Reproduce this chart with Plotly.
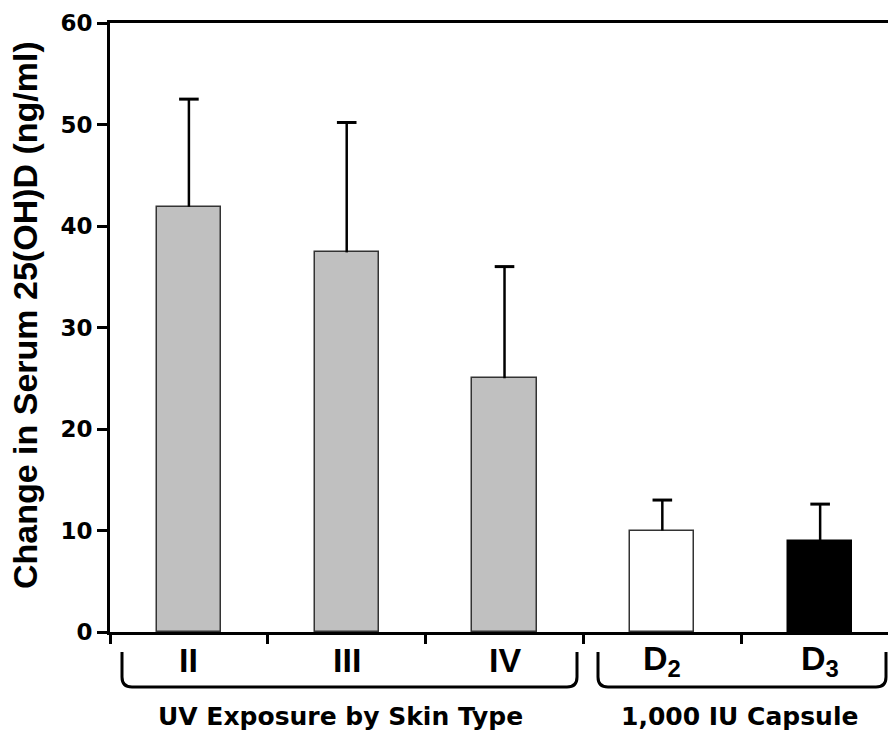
import plotly.graph_objects as go

# ---- data ----
categories = ["II", "III", "IV", "D2", "D3"]
tick_labels = ["II", "III", "IV", "D<sub>2</sub>", "D<sub>3</sub>"]
values = [41.9, 37.4, 25.0, 10.0, 9.0]
errors_up = [10.6, 12.8, 11.0, 3.0, 3.6]
fill_colors = ["#c0c0c0", "#c0c0c0", "#c0c0c0", "#ffffff", "#000000"]
line_colors = ["#333333", "#333333", "#333333", "#333333", "#000000"]
y_ticks = [0, 10, 20, 30, 40, 50, 60]
y_tick_text = ["<b>0</b>", "<b>10</b>", "<b>20</b>", "<b>30</b>", "<b>40</b>", "<b>50</b>", "<b>60</b>"]
group_labels = ["UV Exposure by Skin Type", "1,000 IU Capsule"]
y_title = "Change in Serum 25(OH)D (ng/ml)"

W, H = 888, 731
L, R, T, B = 110, 0, 23, 99
PW, PH = W - L - R, H - T - B


def px(xpix):
    return (xpix - L) / PW


def py(ypix):
    return (H - B - ypix) / PH


fig = go.Figure()
fig.add_trace(
    go.Bar(
        x=categories,
        y=values,
        width=0.406,
        marker=dict(color=fill_colors, line=dict(color=line_colors, width=1.5)),
        showlegend=False,
        hoverinfo="skip",
    )
)

# upper-only error whiskers (stem + top cap), built from the data
wx, wy = [], []
for c, v, e in zip(categories, values, errors_up):
    wx += [c, c, None]
    wy += [v, v + e, None]
fig.add_trace(
    go.Scatter(x=wx, y=wy, mode="lines", line=dict(color="black", width=2.5),
               showlegend=False, hoverinfo="skip", cliponaxis=False)
)
fig.add_trace(
    go.Scatter(
        x=categories,
        y=[v + e for v, e in zip(values, errors_up)],
        mode="markers",
        marker=dict(symbol="line-ew-open", size=14, color="black",
                    line=dict(color="black", width=3)),
        showlegend=False,
        hoverinfo="skip",
        cliponaxis=False,
    )
)

bold = dict(family="Liberation Sans, Arial, sans-serif", color="black", weight="bold")

fig.update_xaxes(
    type="category",
    categoryorder="array",
    categoryarray=categories,
    range=[-0.5, 4.43],
    showline=True,
    linecolor="black",
    linewidth=3,
    mirror=True,
    ticks="outside",
    tickson="boundaries",
    ticklen=9,
    tickwidth=3,
    tickcolor="black",
    showticklabels=False,
    showgrid=False,
    zeroline=False,
    fixedrange=True,
)
fig.update_yaxes(
    range=[0, 60],
    tickmode="array",
    tickvals=y_ticks,
    ticktext=y_tick_text,
    showline=True,
    linecolor="black",
    linewidth=3,
    ticks="outside",
    ticklen=10,
    tickwidth=3,
    tickcolor="black",
    tickfont=dict(family="DejaVu Sans, sans-serif", size=23, color="black", weight="bold"),
    showgrid=False,
    zeroline=False,
    fixedrange=True,
)


def bracket(x0, x1, ytop, ybot, r=10):
    rx, ry = r / PW, r / PH
    a, b = px(x0), px(x1)
    t, u = py(ytop), py(ybot)
    return (
        f"M {a} {t} L {a} {u + ry} Q {a} {u} {a + rx} {u} "
        f"L {b - rx} {u} Q {b} {u} {b} {u + ry} L {b} {t}"
    )


shapes = [
    dict(type="path", xref="paper", yref="paper", path=bracket(122, 577, 652, 687),
         line=dict(color="black", width=3)),
    dict(type="path", xref="paper", yref="paper", path=bracket(598, 886, 652, 687),
         line=dict(color="black", width=3)),
]

group_font = dict(family="DejaVu Sans, sans-serif", size=25, color="black", weight="bold")
annotations = []
for c, lab in zip(categories, tick_labels):
    annotations.append(
        dict(text=lab, x=c, xref="x", y=py(660), yref="paper", xanchor="center",
             yanchor="middle", showarrow=False, font=dict(size=34, **bold))
    )
annotations += [
    dict(text=group_labels[0], x=px(340), y=py(716), xref="paper", yref="paper",
         xanchor="center", yanchor="middle", showarrow=False, font=group_font),
    dict(text=group_labels[1], x=px(739), y=py(716), xref="paper", yref="paper",
         xanchor="center", yanchor="middle", showarrow=False, font=group_font),
    dict(text=y_title, x=px(25), y=py(315), xref="paper", yref="paper",
         xanchor="center", yanchor="middle", textangle=-90, showarrow=False,
         font=dict(size=34, **bold)),
]

fig.update_layout(
    width=W,
    height=H,
    margin=dict(l=L, r=R, t=T, b=B, pad=0),
    plot_bgcolor="white",
    paper_bgcolor="white",
    shapes=shapes,
    annotations=annotations,
    bargap=0,
)

fig.write_html("out.html", config={"displayModeBar": False})
